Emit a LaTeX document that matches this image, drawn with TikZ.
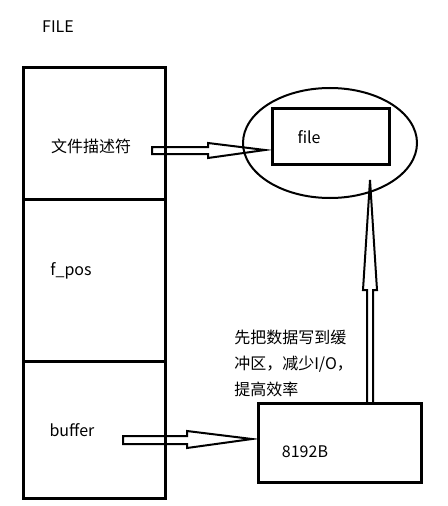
\documentclass[tikz,border=0pt]{standalone}
\usepackage{fontspec}
\setmainfont{Noto Sans CJK SC}
\begin{document}
\begin{tikzpicture}[x=0.75pt,y=-0.75pt,
  box/.style={line width=2.25pt},
  harrow/.style={line width=1.5pt,line join=miter},
  lbl/.style={font=\fontsize{12}{19.5}\selectfont,inner sep=0pt}]
\useasboundingbox (0,0) rectangle (448,506);
% left column
\draw[box] (23,68) rectangle (165,498);
\draw[box] (23,199) -- (165,199);
\draw[box] (23,361) -- (165,361);
\node[lbl] (title) at (58,27) {FILE};
\node[lbl] (fd) at (91,146) {文件描述符};
\node[lbl] (fpos) at (71,271) {f\_pos};
\node[lbl] (buf) at (72,430) {buffer};
% ellipse with file box
\draw[line width=1.5pt] (330,143) ellipse [x radius=87, y radius=55];
\draw[box] (272,109) rectangle (389,164);
\node[lbl] (file) at (309,137) {file};
% buffer box
\draw[box] (258,403) rectangle (421,482);
\node[lbl] (bsize) at (305,452) {8192B};
\node[lbl,anchor=west,align=left] (note) at (234,363) {先把数据写到缓\\冲区，减少I/O，\\提高效率};
% hollow arrows
\coordinate (a1s) at (152,150.5);
\coordinate (a1t) at (265,150);
\draw[harrow] (152,147) -- (208,147) -- (208,143) -- (a1t) -- (208,158) -- (208,154) -- (152,154) -- cycle;
\coordinate (a2t) at (252,439);
\draw[harrow] (123,436) -- (187,436) -- (187,431) -- (a2t) -- (187,448) -- (187,444) -- (123,444) -- cycle;
\coordinate (a3t) at (370,180);
\draw[harrow] (367,403) -- (367,290) -- (363,290) -- (a3t) -- (377,290) -- (373,290) -- (373,403);
\end{tikzpicture}
\end{document}
